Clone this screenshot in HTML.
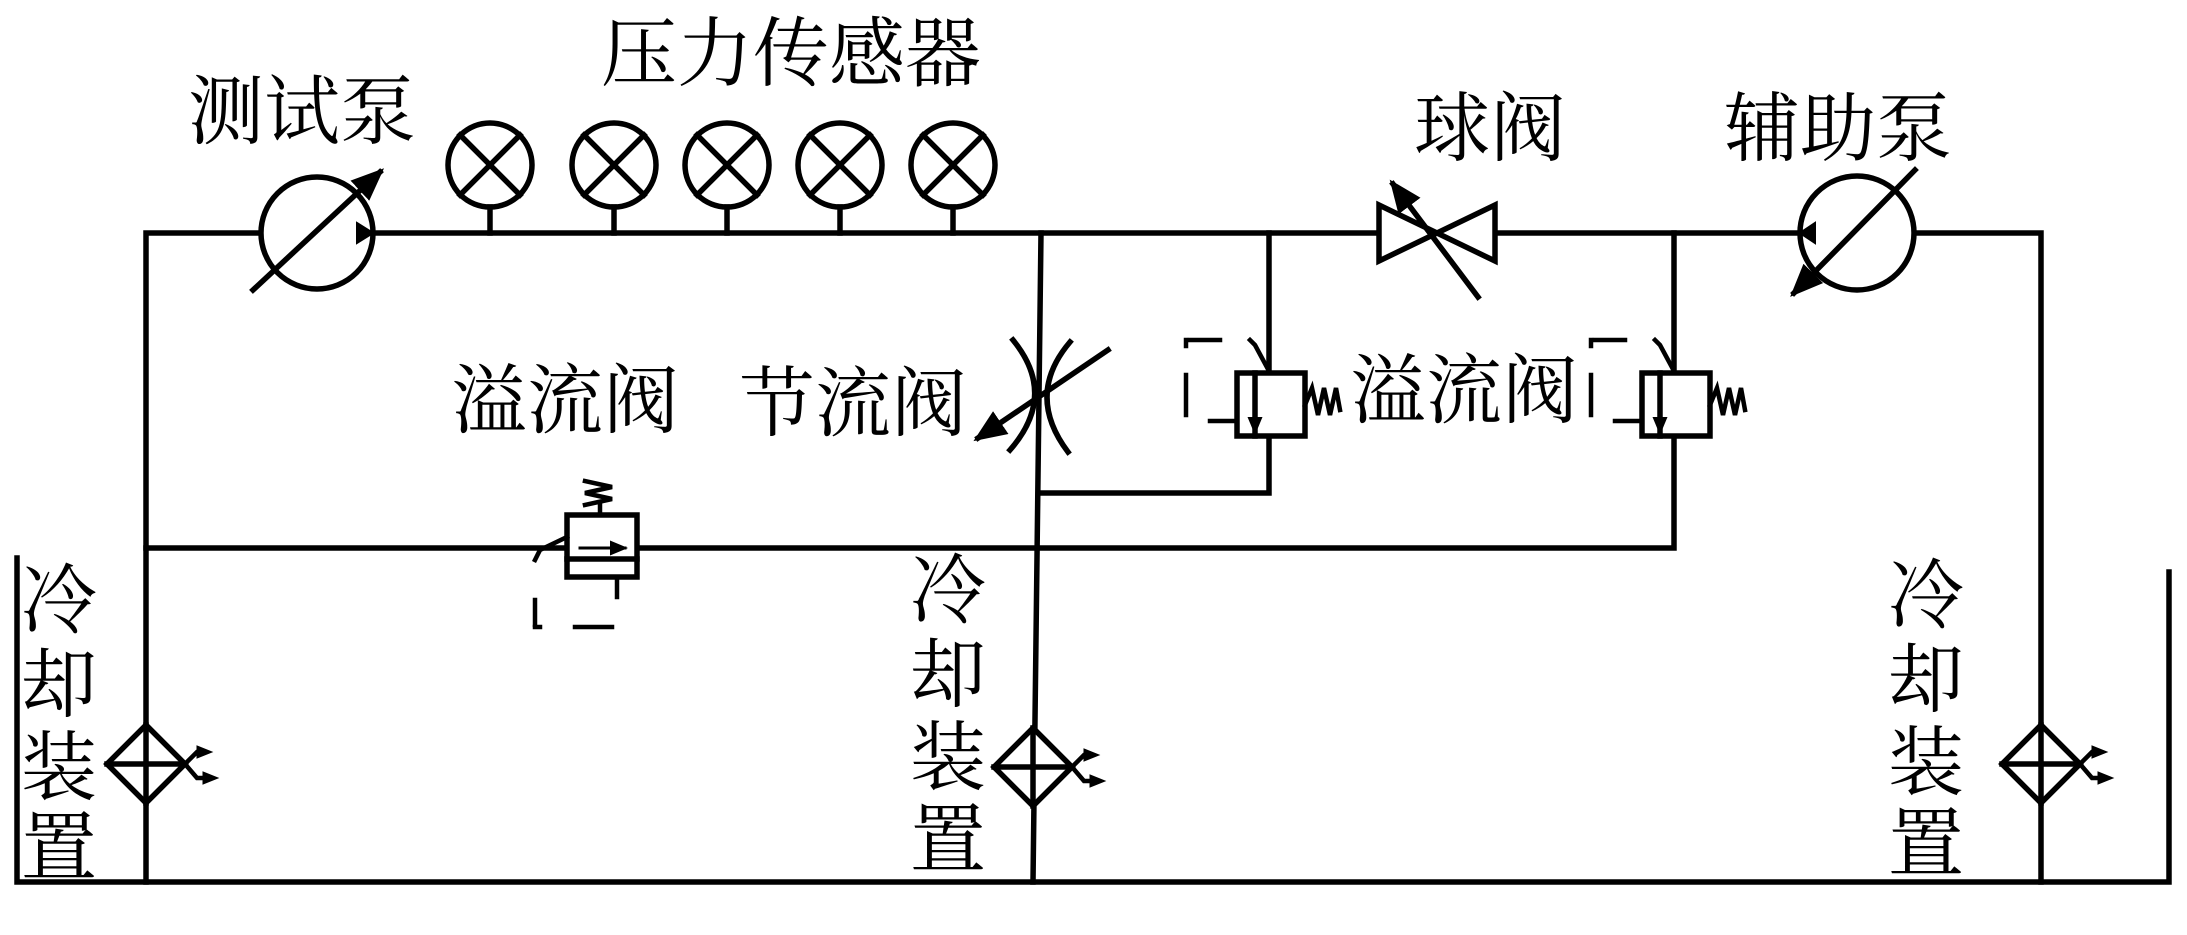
<!DOCTYPE html>
<html><head><meta charset="utf-8"><style>
html,body{margin:0;padding:0;background:#fff;}
svg{display:block;}
text{font-family:"Liberation Serif","Noto Serif CJK SC",serif;font-size:76px;fill:#000;}
</style></head><body>
<svg width="2187" height="935" viewBox="0 0 2187 935" xmlns="http://www.w3.org/2000/svg">
<defs>
<marker id="ah" markerWidth="6" markerHeight="5" refX="5" refY="2.5" orient="auto" markerUnits="strokeWidth"><path d="M0,0 L6,2.5 L0,5 z" fill="#000"/></marker>
</defs>
<g stroke="#000" stroke-width="5.5" fill="none" stroke-linecap="square">
<polyline points="146,882 146,233 261,233"/>
<line x1="373" y1="233" x2="1379" y2="233"/>
<line x1="1495" y1="233" x2="1799" y2="233"/>
<polyline points="1915,233 2041,233 2041,882"/>
<polyline points="17,558 17,882 2169,882 2169,572"/>
<line x1="1041" y1="233" x2="1033" y2="882"/>
<line x1="146" y1="548" x2="565" y2="548"/>
<polyline points="637,548 1674,548 1674,233"/>
<polyline points="1041,493 1269,493 1269,233"/>
<circle cx="317" cy="233" r="56" fill="#fff"/>
<line x1="253" y1="290" x2="380" y2="172" marker-end="url(#ah)"/>
<path d="M357,223 L373,233 L357,243z" fill="#000" stroke-width="2"/>
<g>
<circle cx="490" cy="165" r="42"/><line x1="460" y1="135" x2="520" y2="195"/><line x1="520" y1="135" x2="460" y2="195"/><line x1="490" y1="207" x2="490" y2="233"/>
<circle cx="614" cy="165" r="42"/><line x1="584" y1="135" x2="644" y2="195"/><line x1="644" y1="135" x2="584" y2="195"/><line x1="614" y1="207" x2="614" y2="233"/>
<circle cx="727" cy="165" r="42"/><line x1="697" y1="135" x2="757" y2="195"/><line x1="757" y1="135" x2="697" y2="195"/><line x1="727" y1="207" x2="727" y2="233"/>
<circle cx="840" cy="165" r="42"/><line x1="810" y1="135" x2="870" y2="195"/><line x1="870" y1="135" x2="810" y2="195"/><line x1="840" y1="207" x2="840" y2="233"/>
<circle cx="953" cy="165" r="42"/><line x1="923" y1="135" x2="983" y2="195"/><line x1="983" y1="135" x2="923" y2="195"/><line x1="953" y1="207" x2="953" y2="233"/>
</g>
<polygon points="1379,205 1379,261 1495,205 1495,261" fill="#fff"/>
<line x1="1478" y1="297" x2="1393" y2="184" marker-end="url(#ah)"/>
<circle cx="1857" cy="233" r="57" fill="#fff"/>
<line x1="1915" y1="170" x2="1794" y2="293" marker-end="url(#ah)"/>
<path d="M1815,223 L1800,233 L1815,243z" fill="#000" stroke-width="2"/>
<path d="M1013,340 Q1058,395 1010,450"/>
<path d="M1070,342 Q1025,395 1068,452"/>
<line x1="1108" y1="350" x2="978" y2="438" marker-end="url(#ah)"/>
<rect x="567" y="515" width="70" height="62" fill="#fff"/>
<line x1="567" y1="559" x2="637" y2="559"/>
<line x1="580" y1="548" x2="625" y2="548" marker-end="url(#ah)" stroke-width="3"/>
<path d="M600,513 L600,505 M585,505 L612,499 L585,493 L612,487 L585,481" stroke-width="4.5"/>
<path d="M567,537 L540,550 L535,560" stroke-width="4.5"/>
<line x1="617" y1="577" x2="617" y2="597" stroke-width="4.5"/>
<line x1="535" y1="600" x2="535" y2="625" stroke-width="4.5"/>
<line x1="535" y1="627" x2="540" y2="627" stroke-width="4.5"/>
<line x1="575" y1="627" x2="612" y2="627" stroke-width="4.5"/>
<g id="rv">
<rect x="1237" y="373" width="68" height="63" fill="#fff"/>
<line x1="1255" y1="373" x2="1255" y2="436"/>
<line x1="1255" y1="395" x2="1255" y2="432" stroke-width="3" marker-end="url(#ah)"/>
<path d="M1305,405 L1312,388 L1318,415 L1324,388 L1330,415 L1336,388 L1340,410" stroke-width="4.5"/>
<path d="M1269,371 L1255,345 L1250,340" stroke-width="4.5"/>
<line x1="1190" y1="340" x2="1220" y2="340" stroke-width="4.5"/>
<line x1="1186" y1="340" x2="1186" y2="346" stroke-width="4.5"/>
<line x1="1186" y1="375" x2="1186" y2="415" stroke-width="4.5"/>
<line x1="1210" y1="421" x2="1237" y2="421" stroke-width="4.5"/>
</g>
<use href="#rv" transform="translate(405,0)"/>
<g id="c1">
<polygon points="146,725 185,764 146,803 107,764" fill="#fff"/>
<line x1="107" y1="764" x2="185" y2="764"/>
<line x1="146" y1="725" x2="146" y2="803"/>
<path d="M185,764 L197,752 L200,752" stroke-width="4.5"/>
<path d="M197,746 L212,752 L197,758z" fill="#000" stroke-width="1"/>
<path d="M185,764 L197,778 L205,778" stroke-width="4.5"/>
<path d="M203,772 L218,778 L203,784z" fill="#000" stroke-width="1"/>
</g>
<use href="#c1" transform="translate(887,3)"/>
<use href="#c1" transform="translate(1895,0)"/>
</g>
<text x="601" y="80">压力传感器</text>
<text x="188" y="138">测试泵</text>
<text x="1414" y="155">球阀</text>
<text x="1724" y="155">辅助泵</text>
<text x="451" y="427">溢流阀</text>
<text x="739" y="430">节流阀</text>
<text x="1350" y="417">溢流阀</text>
<g>
<text x="21" y="627">冷</text><text x="21" y="711">却</text><text x="21" y="794">装</text><text x="21" y="874">置</text>
<text x="910" y="617">冷</text><text x="910" y="701">却</text><text x="910" y="784">装</text><text x="910" y="866">置</text>
<text x="1888" y="622">冷</text><text x="1888" y="706">却</text><text x="1888" y="789">装</text><text x="1888" y="870">置</text>
</g>
</svg>
</body></html>
